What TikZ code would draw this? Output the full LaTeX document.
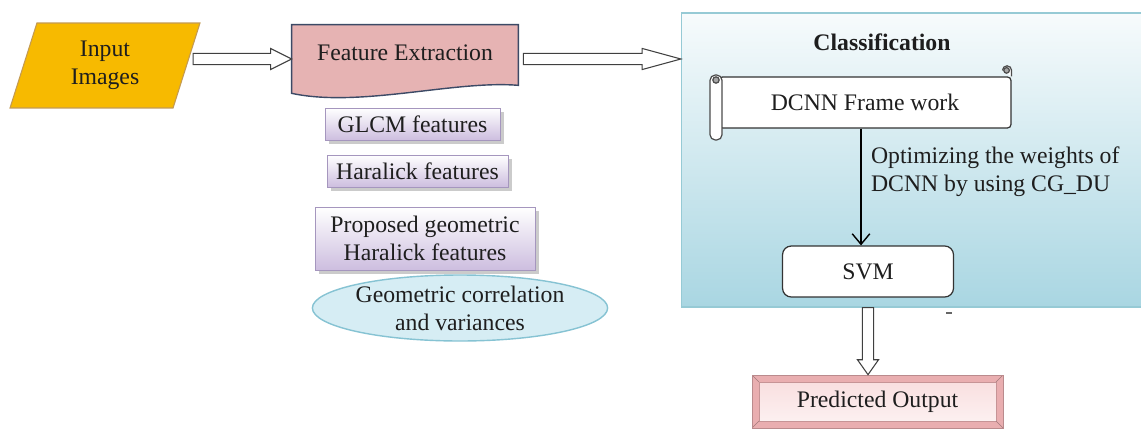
\documentclass[tikz,border=0pt]{standalone}
\usepackage{fontspec}
\setmainfont{Liberation Serif}
\usetikzlibrary{positioning}
\usetikzlibrary{calc}
\usetikzlibrary{shapes.geometric}
\usetikzlibrary{shadows}
\usetikzlibrary{arrows.meta}

\definecolor{inpfill}{HTML}{F7BA00}
\definecolor{inpedge}{HTML}{C39A52}
\definecolor{fefill}{HTML}{E6B3B3}
\definecolor{feedge}{HTML}{3C4A66}
\definecolor{featbot}{HTML}{CDBEDF}
\definecolor{featedge}{HTML}{A596BE}
\definecolor{ellfill}{HTML}{D6EDF4}
\definecolor{elledge}{HTML}{86C3D3}
\definecolor{paneltop}{HTML}{F7FBFC}
\definecolor{panelbot}{HTML}{A9D6E2}
\definecolor{paneledge}{HTML}{96CAD5}
\definecolor{predouter}{HTML}{E9AEB0}
\definecolor{predtop}{HTML}{F8DCDD}
\definecolor{predbot}{HTML}{FDF3F3}
\definecolor{ink}{HTML}{1E1E1E}

% hollow block arrow between two points, optional head length
\newcommand{\hollowarrow}[3][12pt]{%
  \draw[hollow] let \p1=(#2), \p2=(#3),
    \n1={atan2(\y2-\y1,\x2-\x1)}, \n2={veclen(\x2-\x1,\y2-\y1)} in
    [shift={(\p1)}, rotate=\n1]
    (0pt,3.2pt) -- ({\n2*1pt-#1},3.2pt) -- ({\n2*1pt-#1},6pt) -- ({\n2*1pt},0pt)
    -- ({\n2*1pt-#1},-6pt) -- ({\n2*1pt-#1},-3.2pt) -- (0pt,-3.2pt) -- cycle;}

\begin{document}
\begin{tikzpicture}[x=0.02cm,y=-0.02cm,
  every node/.style={font=\fontsize{13.5}{16}\selectfont,text=ink},
  hollow/.style={draw=black!75,fill=white,line width=0.6pt},
  inpbox/.style={trapezium,trapezium left angle=66,trapezium right angle=114,
    trapezium stretches body,minimum width=3.8cm,minimum height=1.7cm,
    align=center,fill=inpfill,draw=inpedge,line width=0.6pt},
  featbox/.style={rectangle,top color=white,bottom color=featbot,draw=featedge,
    line width=0.5pt,minimum height=0.64cm,align=center,
    drop shadow={shadow xshift=2pt,shadow yshift=-2pt,opacity=0.45,fill=black!45}},
  whitebox/.style={rectangle,draw=black!80,fill=white,line width=0.7pt},
  scrolledge/.style={draw=black!70,fill=white,line width=0.7pt}
]
\path[use as bounding box,fill=white] (0,0) rectangle (1141,429);

% input and feature extraction
\node[inpbox] (inp) at (105,65.5) {Input\\Images};
\node[minimum width=4.52cm,minimum height=1.36cm,text depth=7pt] (fe) at (405,59) {Feature Extraction};
\draw[fill=fefill,draw=feedge,line width=0.8pt]
  (fe.north west) -- (fe.north east) -- ($(fe.south east)+(0,-8)$)
  .. controls (455,80) and (360,108) .. (fe.south west) -- cycle;
\node at (fe) [text depth=7pt] {Feature Extraction};

\node[featbox,minimum width=3.5cm] (glcm) at (412.5,124) {GLCM features};
\node[featbox,minimum width=3.62cm] (har) at (417.5,171) {Haralick features};
\node[featbox,minimum width=4.4cm,minimum height=1.26cm,inner sep=1pt] (prop) at (425,238.5)
  {Proposed geometric\\Haralick features};
\node[ellipse,fill=ellfill,draw=elledge,line width=0.8pt,minimum width=4.72cm,
  minimum height=1.32cm,inner sep=0pt,align=center] (geo) at (460,308)
  {Geometric correlation\\and variances};

% classification panel
\node[rectangle,top color=paneltop,bottom color=panelbot,draw=paneledge,line width=0.8pt,
  minimum width=9.24cm,minimum height=5.88cm] (cls) at (912.5,160) {};
\node[font=\fontsize{13.5}{16}\selectfont\bfseries] (clstitle) at (882,42) {Classification};

\node[whitebox,rounded corners=2pt,minimum width=5.84cm,minimum height=1.02cm] (dcnn) at (865,102.5)
  {DCNN Frame work};
% scroll rolls
\draw[scrolledge,rounded corners=3pt] (710,75) rectangle (722,140);
\draw[scrolledge,fill=black!35] (716,80) circle (1.8pt);
\draw[scrolledge] (dcnn.north east) -- ++(0,-6) arc[start angle=0,end angle=180,radius=2.6pt];
\draw[scrolledge,fill=black!35] ($(dcnn.north east)+(-5,-6)$) circle (1.6pt);

\node[whitebox,rounded corners=5pt,minimum width=3.42cm,minimum height=1.02cm] (svm) at (868,271.5) {SVM};
\draw[line width=0.8pt,-{Straight Barb[length=6pt,width=10pt]}]
  (dcnn.south -| 861,0) -- (svm.north -| 861,0)
  node[pos=0.37,right,align=left,xshift=2pt] (optim) {Optimizing the weights of\\DCNN by using CG\_DU};
\draw[black!60,line width=0.8pt] (946,313) -- (952,313);

% output
\node[minimum width=5.02cm,minimum height=1.06cm,fill=predouter,draw=predouter!80!black,line width=0.4pt,
  path picture={
    \shade[top color=predtop,bottom color=predbot,draw=predouter!85!black]
      ($(path picture bounding box.north west)+(7,7)$) rectangle ($(path picture bounding box.south east)+(-7,-7)$);
    \draw[predouter!70!black,line width=0.3pt]
      (path picture bounding box.north west) -- ++(7,7)
      (path picture bounding box.north east) -- ++(-7,7)
      (path picture bounding box.south west) -- ++(7,-7)
      (path picture bounding box.south east) -- ++(-7,-7);
  }] (pred) at (877.5,401.5) {Predicted Output};

% block arrows
\hollowarrow{$(inp.east |- fe.west)+(6,0)$}{fe.west}
\hollowarrow[22pt]{$(fe.east)+(5,0)$}{cls.west |- fe.east}
\hollowarrow[8.5pt]{svm |- cls.south}{svm |- pred.north}
\end{tikzpicture}
\end{document}
